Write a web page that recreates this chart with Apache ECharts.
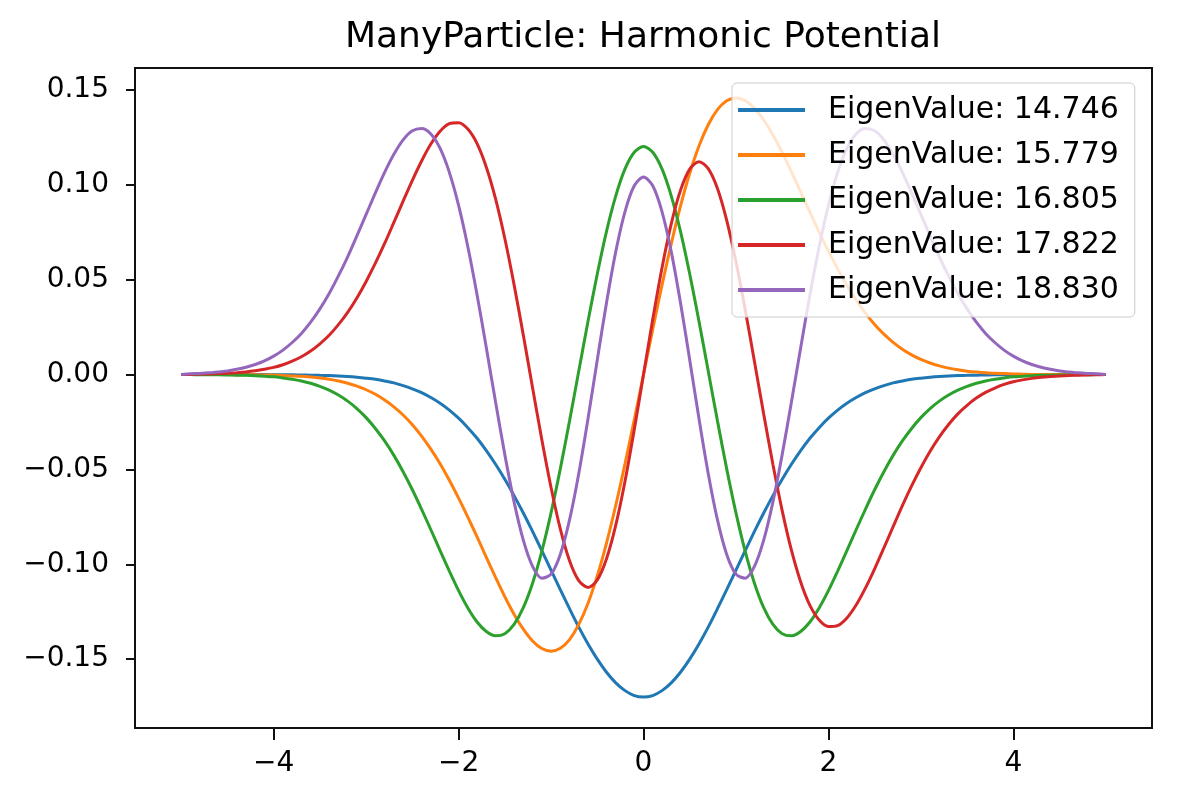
<!DOCTYPE html>
<html>
<head>
<meta charset="utf-8">
<script src="https://cdn.jsdelivr.net/npm/echarts@6/dist/echarts.min.js"></script>
<style>html,body{margin:0;padding:0;background:#fff;}#chart{width:1181px;height:800px;}</style>
</head>
<body>
<div id="chart"></div>
<script>
const titleText = 'ManyParticle: Harmonic Potential';
const seriesNames = ['EigenValue: 14.746', 'EigenValue: 15.779', 'EigenValue: 16.805', 'EigenValue: 17.822', 'EigenValue: 18.830'];
const colors = ['#1f77b4', '#ff7f0e', '#2ca02c', '#d62728', '#9467bd'];
const xTicks = [-4, -2, 0, 2, 4];
const xTickLabels = ['\u22124', '\u22122', '0', '2', '4'];
const yTicks = [-0.15, -0.10, -0.05, 0.00, 0.05, 0.10, 0.15];
const yTickLabels = ['\u22120.15', '\u22120.10', '\u22120.05', '0.00', '0.05', '0.10', '0.15'];

const xs = [
  -5.0,-4.9,-4.8,-4.7,-4.6,-4.5,-4.4,-4.3,-4.2,-4.1,
  -4.0,-3.9,-3.8,-3.7,-3.6,-3.5,-3.4,-3.3,-3.2,-3.1,
  -3.0,-2.9,-2.8,-2.7,-2.6,-2.5,-2.4,-2.3,-2.2,-2.1,
  -2.0,-1.9,-1.8,-1.7,-1.6,-1.5,-1.4,-1.3,-1.2,-1.1,
  -1.0,-0.9,-0.8,-0.7,-0.6,-0.5,-0.4,-0.3,-0.2,-0.1,
  0,
  0.1,0.2,0.3,0.4,0.5,0.6,0.7,0.8,0.9,1.0,
  1.1,1.2,1.3,1.4,1.5,1.6,1.7,1.8,1.9,2.0,
  2.1,2.2,2.3,2.4,2.5,2.6,2.7,2.8,2.9,3.0,
  3.1,3.2,3.3,3.4,3.5,3.6,3.7,3.8,3.9,4.0,
  4.1,4.2,4.3,4.4,4.5,4.6,4.7,4.8,4.9,5.0
];

const blue = [
  0,0,0,0,0,0,0,0,0,0,
  -0.0001,-0.0001,-0.0001,-0.0002,-0.0003,-0.0004,-0.0005,-0.0007,-0.0010,-0.0014,
  -0.0019,-0.0025,-0.0034,-0.0044,-0.0058,-0.0075,-0.0095,-0.0121,-0.0151,-0.0187,
  -0.0230,-0.0280,-0.0336,-0.0401,-0.0473,-0.0552,-0.0638,-0.0730,-0.0827,-0.0928,
  -0.1031,-0.1134,-0.1234,-0.1331,-0.1420,-0.1500,-0.1569,-0.1625,-0.1666,-0.1692,
  -0.1700,
  -0.1692,-0.1666,-0.1625,-0.1569,-0.1500,-0.1420,-0.1331,-0.1234,-0.1134,-0.1031,
  -0.0928,-0.0827,-0.0730,-0.0638,-0.0552,-0.0473,-0.0401,-0.0336,-0.0280,-0.0230,
  -0.0187,-0.0151,-0.0121,-0.0095,-0.0075,-0.0058,-0.0044,-0.0034,-0.0025,-0.0019,
  -0.0014,-0.0010,-0.0007,-0.0005,-0.0004,-0.0003,-0.0002,-0.0001,-0.0001,-0.0001,
  0,0,0,0,0,0,0,0,0,0
];

const orange = [
  0,0,0,0,0,0,-0.0001,-0.0001,-0.0001,-0.0002,
  -0.0003,-0.0005,-0.0007,-0.0009,-0.0013,-0.0018,-0.0025,-0.0034,-0.0046,-0.0061,
  -0.0080,-0.0104,-0.0134,-0.0170,-0.0213,-0.0264,-0.0324,-0.0393,-0.0470,-0.0557,
  -0.0651,-0.0751,-0.0856,-0.0963,-0.1069,-0.1171,-0.1263,-0.1342,-0.1404,-0.1444,
  -0.1458,-0.1443,-0.1397,-0.1317,-0.1205,-0.1061,-0.0888,-0.0689,-0.0471,-0.0239,
  0,
  0.0239,0.0471,0.0689,0.0888,0.1061,0.1205,0.1317,0.1397,0.1443,0.1458,
  0.1444,0.1404,0.1342,0.1263,0.1171,0.1069,0.0963,0.0856,0.0751,0.0651,
  0.0557,0.0470,0.0393,0.0324,0.0264,0.0213,0.0170,0.0134,0.0104,0.0080,
  0.0061,0.0046,0.0034,0.0025,0.0018,0.0013,0.0009,0.0007,0.0005,0.0003,
  0.0002,0.0001,0.0001,0.0001,0,0,0,0,0,0
];

const green = [
  0,0,-0.0001,-0.0001,-0.0001,-0.0002,-0.0003,-0.0004,-0.0006,-0.0009,
  -0.0012,-0.0018,-0.0025,-0.0034,-0.0046,-0.0062,-0.0082,-0.0108,-0.0140,-0.0179,
  -0.0227,-0.0284,-0.0350,-0.0426,-0.0512,-0.0607,-0.0710,-0.0818,-0.0928,-0.1036,
  -0.1139,-0.1230,-0.1304,-0.1354,-0.1377,-0.1366,-0.1317,-0.1229,-0.1100,-0.0932,
  -0.0729,-0.0497,-0.0244,0.0019,0.0281,0.0530,0.0755,0.0942,0.1084,0.1172,
  0.1202,
  0.1172,0.1084,0.0942,0.0755,0.0530,0.0281,0.0019,-0.0244,-0.0497,-0.0729,
  -0.0932,-0.1100,-0.1229,-0.1317,-0.1366,-0.1377,-0.1354,-0.1304,-0.1230,-0.1139,
  -0.1036,-0.0928,-0.0818,-0.0710,-0.0607,-0.0512,-0.0426,-0.0350,-0.0284,-0.0227,
  -0.0179,-0.0140,-0.0108,-0.0082,-0.0062,-0.0046,-0.0034,-0.0025,-0.0018,-0.0012,
  -0.0009,-0.0006,-0.0004,-0.0003,-0.0002,-0.0001,-0.0001,-0.0001,0,0
];

const red = [
  0,0.0001,0.0002,0.0003,0.0005,0.0007,0.0010,0.0014,0.0020,0.0028,
  0.0038,0.0052,0.0071,0.0094,0.0124,0.0162,0.0207,0.0263,0.0328,0.0404,
  0.0491,0.0587,0.0691,0.0802,0.0914,0.1024,0.1126,0.1215,0.1283,0.1323,
  0.1328,0.1294,0.1217,0.1093,0.0926,0.0717,0.0474,0.0208,-0.0069,-0.0342,
  -0.0595,-0.0813,-0.0981,-0.1086,-0.1122,-0.1083,-0.0971,-0.0794,-0.0562,-0.0291,
  0,
  0.0291,0.0562,0.0794,0.0971,0.1083,0.1122,0.1086,0.0981,0.0813,0.0595,
  0.0342,0.0069,-0.0208,-0.0474,-0.0717,-0.0926,-0.1093,-0.1217,-0.1294,-0.1328,
  -0.1323,-0.1283,-0.1215,-0.1126,-0.1024,-0.0914,-0.0802,-0.0691,-0.0587,-0.0491,
  -0.0404,-0.0328,-0.0263,-0.0207,-0.0162,-0.0124,-0.0094,-0.0071,-0.0052,-0.0038,
  -0.0028,-0.0020,-0.0014,-0.0010,-0.0007,-0.0005,-0.0003,-0.0002,-0.0001,0
];

const purple = [
  0,0.0004,0.0006,0.0009,0.0014,0.0019,0.0028,0.0039,0.0053,0.0072,
  0.0097,0.0129,0.0169,0.0217,0.0276,0.0346,0.0427,0.0520,0.0621,0.0731,
  0.0844,0.0958,0.1066,0.1161,0.1237,0.1285,0.1297,0.1268,0.1192,0.1066,
  0.0892,0.0674,0.0420,0.0141,-0.0145,-0.0422,-0.0671,-0.0873,-0.1011,-0.1073,
  -0.1052,-0.0948,-0.0766,-0.0521,-0.0232,0.0077,0.0379,0.0648,0.0859,0.0995,
  0.1041,
  0.0995,0.0859,0.0648,0.0379,0.0077,-0.0232,-0.0521,-0.0766,-0.0948,-0.1052,
  -0.1073,-0.1011,-0.0873,-0.0671,-0.0422,-0.0145,0.0141,0.0420,0.0674,0.0892,
  0.1066,0.1192,0.1268,0.1297,0.1285,0.1237,0.1161,0.1066,0.0958,0.0844,
  0.0731,0.0621,0.0520,0.0427,0.0346,0.0276,0.0217,0.0169,0.0129,0.0097,
  0.0072,0.0053,0.0039,0.0028,0.0019,0.0014,0.0009,0.0006,0.0004,0
];

const seriesValues = [blue, orange, green, red, purple];

const FONT = 'DejaVu Sans';
const chart = echarts.init(document.getElementById('chart'), null, {renderer: 'canvas'});

function labelFor(ticks, labels) {
  return function (v) {
    for (let i = 0; i < ticks.length; i++) {
      if (Math.abs(ticks[i] - v) < 1e-9) return labels[i];
    }
    return '';
  };
}

const option = {
  backgroundColor: '#ffffff',
  animation: false,
  title: {
    text: titleText,
    left: 345,
    top: 20,
    padding: 0,
    textStyle: {fontFamily: FONT, fontSize: 36, fontWeight: 'normal', color: '#000'}
  },
  grid: {
    left: 135, right: 29, top: 68, bottom: 72,
    show: true, borderColor: '#111', borderWidth: 2, backgroundColor: 'transparent'
  },
  legend: {
    orient: 'vertical',
    left: 732,
    top: 83,
    padding: [12, 16, 12, 6],
    itemGap: 15,
    itemWidth: 67,
    itemHeight: 4,
    icon: 'rect',
    backgroundColor: 'rgba(255,255,255,0.8)',
    borderColor: '#cccccc',
    borderWidth: 1,
    borderRadius: 5,
    textStyle: {fontFamily: FONT, fontSize: 30, color: '#000', lineHeight: 30, padding: [0, 0, 0, 18]},
    data: seriesNames
  },
  xAxis: {
    type: 'value',
    min: -5.5,
    max: 5.5,
    splitLine: {show: false},
    axisLine: {show: false, onZero: false},
    axisTick: {show: true, customValues: xTicks, length: 12, lineStyle: {color: '#111', width: 2}},
    axisLabel: {customValues: xTicks, formatter: labelFor(xTicks, xTickLabels), margin: 22, fontFamily: FONT, fontSize: 28, color: '#000'}
  },
  yAxis: {
    type: 'value',
    min: -0.1863,
    max: 0.1616,
    splitLine: {show: false},
    axisLine: {show: false, onZero: false},
    axisTick: {show: true, customValues: yTicks, length: 9, lineStyle: {color: '#111', width: 2}},
    axisLabel: {customValues: yTicks, formatter: labelFor(yTicks, yTickLabels), margin: 26, fontFamily: FONT, fontSize: 28, color: '#000'}
  },
  series: seriesValues.map((vals, i) => ({
    name: seriesNames[i],
    type: 'line',
    data: xs.map((x, j) => [x, vals[j]]),
    smooth: 0.3,
    symbol: 'none',
    showSymbol: false,
    color: colors[i],
    lineStyle: {color: colors[i], width: 3},
    itemStyle: {color: colors[i]}
  }))
};
chart.setOption(option);
</script>
</body>
</html>
